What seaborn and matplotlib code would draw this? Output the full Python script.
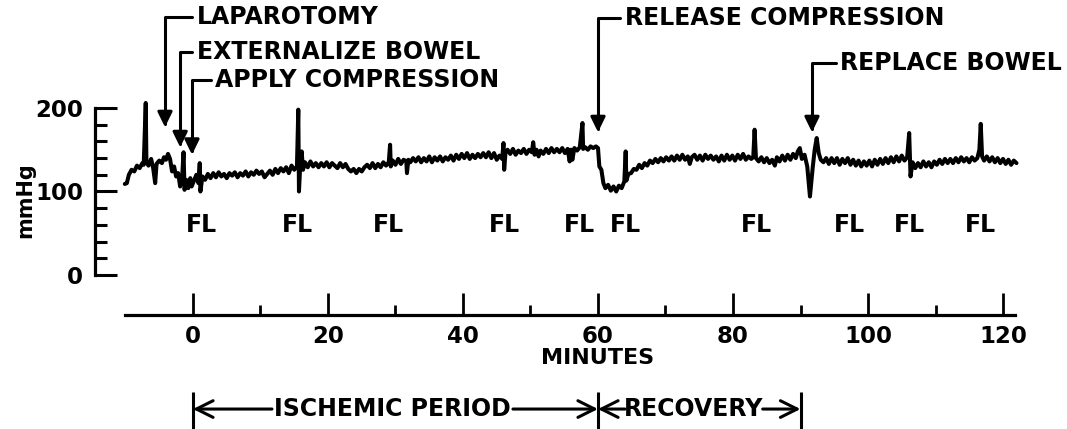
import matplotlib
matplotlib.use("Agg")
import matplotlib.pyplot as plt
import seaborn as sns
import pandas as pd

# ---------------- data ----------------
minutes = [
    -10.1, -9.8, -9.5, -9.1, -8.7, -8.3, -7.9, -7.5, -7.3, -7.0, -6.9, -6.6, -6.2, -5.9, -5.6, -5.4,
    -5.0, -4.6, -4.3, -4.0, -3.7, -3.4, -3.1, -2.8, -2.5, -2.2, -1.9, -1.6, -1.4, -1.25, -1.0, -0.7,
    -0.4, -0.2, 0.2, 0.5, 0.8, 1.0, 1.1, 1.4, 1.8, 2.2, 2.6, 3.0, 3.4, 3.8, 4.2, 4.6, 5.0, 5.4, 5.8,
    6.2, 6.6, 7.0, 7.4, 7.8, 8.2, 8.6, 9.0, 9.4, 9.8, 10.2, 10.6, 11.0, 11.4, 11.8, 12.2, 12.6, 13.0,
    13.4, 13.8, 14.2, 14.6, 15.0, 15.4, 15.6, 15.7, 15.9, 16.1, 16.3, 16.6, 17.0, 17.4, 17.8, 18.2,
    18.6, 19.0, 19.4, 19.8, 20.2, 20.6, 21.0, 21.4, 21.8, 22.2, 22.6, 23.0, 23.4, 23.8, 24.2, 24.6,
    25.0, 25.4, 25.8, 26.2, 26.6, 27.0, 27.4, 27.8, 28.2, 28.6, 29.0, 29.2, 29.3, 29.6, 30.0, 30.4,
    30.8, 31.2, 31.6, 31.7, 31.9, 32.2, 32.6, 33.0, 33.4, 33.8, 34.2, 34.6, 35.0, 35.4, 35.8, 36.2,
    36.6, 37.0, 37.4, 37.8, 38.2, 38.6, 39.0, 39.4, 39.8, 40.2, 40.6, 41.0, 41.4, 41.8, 42.2, 42.6,
    43.0, 43.4, 43.8, 44.2, 44.6, 45.0, 45.4, 45.8, 46.0, 46.1, 46.3, 46.6, 47.0, 47.4, 47.8, 48.2,
    48.6, 49.0, 49.4, 49.8, 50.2, 50.4, 50.6, 50.9, 51.2, 51.5, 51.9, 52.3, 52.7, 53.1, 53.5, 53.9,
    54.3, 54.7, 55.1, 55.5, 55.8, 56.0, 56.2, 56.5, 56.9, 57.3, 57.7, 57.8, 58.1, 58.5, 58.9, 59.3,
    59.7, 60.0, 60.2, 60.5, 60.8, 61.1, 61.5, 61.9, 62.3, 62.7, 63.1, 63.5, 63.9, 64.1, 64.2, 64.5,
    64.9, 65.3, 65.7, 66.1, 66.5, 66.9, 67.3, 67.7, 68.1, 68.5, 68.9, 69.3, 69.7, 70.1, 70.5, 70.9,
    71.3, 71.7, 72.1, 72.5, 72.9, 73.3, 73.6, 73.9, 74.3, 74.7, 75.1, 75.5, 75.9, 76.3, 76.7, 77.1,
    77.5, 77.9, 78.3, 78.7, 79.1, 79.5, 79.9, 80.3, 80.7, 81.1, 81.5, 81.9, 82.3, 82.7, 83.0, 83.2,
    83.4, 83.8, 84.2, 84.6, 85.0, 85.4, 85.8, 86.2, 86.5, 86.9, 87.3, 87.7, 88.1, 88.5, 88.9, 89.3,
    89.6, 89.9, 90.2, 90.6, 91.0, 91.4, 91.8, 92.1, 92.4, 92.7, 93.0, 93.4, 93.8, 94.2, 94.6, 95.0,
    95.4, 95.8, 96.2, 96.6, 97.0, 97.4, 97.8, 98.2, 98.6, 99.0, 99.4, 99.8, 100.2, 100.6, 101.0,
    101.4, 101.8, 102.2, 102.6, 103.0, 103.4, 103.8, 104.2, 104.6, 105.0, 105.4, 105.8, 106.1, 106.3,
    106.6, 107.0, 107.4, 107.8, 108.2, 108.6, 109.0, 109.4, 109.8, 110.2, 110.6, 111.0, 111.4, 111.8,
    112.2, 112.6, 113.0, 113.4, 113.8, 114.2, 114.6, 115.0, 115.4, 115.8, 116.2, 116.5, 116.7, 116.9,
    117.2, 117.6, 118.0, 118.4, 118.8, 119.2, 119.6, 120.0, 120.4, 120.8, 121.2, 121.6, 122.0,
]
mmhg = [
    109, 110, 120, 126, 124, 131, 128, 134, 132, 206, 136, 131, 139, 128, 110, 133,
    137, 134, 141, 138, 145, 139, 124, 130, 118, 122, 106, 118, 147, 102, 114, 104,
    116, 106, 114, 120, 110, 134, 100, 118, 114, 121, 116, 122, 117, 123, 118, 121, 116, 122, 119,
    123, 117, 122, 119, 124, 118, 123, 120, 125, 121, 124, 117, 121, 125, 120, 127, 122, 128,
    124, 129, 122, 131, 126, 130, 198, 100, 134, 148, 126, 135, 129, 136, 130, 134,
    129, 134, 130, 135, 129, 134, 131, 128, 134, 129, 133, 127, 124, 127, 122, 127,
    124, 129, 132, 128, 134, 128, 133, 129, 135, 131, 135, 156, 130, 137, 132, 139,
    133, 138, 136, 122, 138, 135, 140, 136, 141, 135, 140, 136, 142, 135, 141, 137,
    142, 136, 141, 138, 143, 137, 144, 139, 145, 140, 146, 139, 144, 140, 145, 141,
    146, 141, 147, 140, 146, 138, 143, 139, 158, 126, 147, 150, 145, 151, 144, 149,
    146, 151, 145, 150, 147, 159, 144, 150, 142, 149, 145, 151, 146, 152, 147, 151,
    147, 152, 146, 151, 136, 150, 138, 152, 149, 153, 182, 151, 153, 150, 154, 152,
    154, 152, 130, 126, 110, 104, 108, 101, 106, 100, 107, 104, 112, 148, 113, 121,
    122, 127, 126, 132, 128, 134, 131, 137, 134, 139, 135, 140, 136, 141, 137, 142,
    137, 143, 138, 144, 138, 142, 133, 141, 144, 138, 143, 137, 144, 139, 143, 138,
    142, 136, 143, 137, 144, 138, 143, 137, 144, 139, 145, 138, 142, 139, 141, 174,
    140, 136, 141, 135, 140, 134, 138, 131, 141, 136, 143, 137, 144, 138, 145, 140,
    148, 152, 139, 144, 130, 94, 128, 150, 164, 146, 138, 135, 140, 133, 140, 134,
    140, 132, 139, 134, 140, 132, 138, 131, 137, 130, 136, 131, 137, 130, 138,
    132, 139, 133, 140, 134, 141, 135, 142, 136, 143, 137, 141, 170, 118,
    135, 128, 134, 129, 136, 130, 135, 129, 136, 132, 138, 133, 139, 134,
    139, 134, 140, 135, 141, 136, 140, 135, 141, 137, 140, 150, 181, 142,
    137, 142, 136, 141, 135, 140, 134, 139, 133, 138, 132, 137, 134,
]

fl_minutes = [1.2, 15.4, 28.9, 46.2, 57.3, 64.0, 83.4, 97.3, 106.2, 116.6]
fl_label = "FL"

event_labels = ["LAPAROTOMY", "EXTERNALIZE BOWEL", "APPLY COMPRESSION",
                "RELEASE COMPRESSION", "REPLACE BOWEL"]
event_minutes = [-4.15, -1.9, -0.15, 60.0, 91.7]
event_tip_mmhg = [177, 153, 144, 171, 171]

period_labels = ["ISCHEMIC PERIOD", "RECOVERY"]
period_starts = [0, 60]
period_ends = [60, 90]

x_major = [0, 20, 40, 60, 80, 100, 120]
x_minor = [10, 30, 50, 70, 90, 110]
y_major = [0, 100, 200]
y_minor = [20, 40, 60, 80, 120, 140, 160, 180]

# ---------------- layout constants ----------------
event_text_pos = [(0.6, 309.0), (0.6, 267.4), (3.3, 233.5), (64.0, 307.8), (95.9, 253.9)]
fl_y = 60
period_y = -160.5
period_text_x = [29.6, 74.2]
period_text_edges = [(11.7, 47.4), (64.0, 84.4)]

sns.set_theme(style="ticks")
plt.rcParams["font.family"] = ["DejaVu Sans"]
plt.rcParams["font.weight"] = "bold"
plt.rcParams["text.color"] = "black"
plt.rcParams["axes.labelcolor"] = "black"
plt.rcParams["xtick.color"] = "black"
plt.rcParams["ytick.color"] = "black"

fig = plt.figure(figsize=(10.67, 4.29), dpi=100, facecolor="white")
ax = fig.add_axes([0, 0, 1, 1])
ax.set_facecolor("white")

df = pd.DataFrame({"minutes": minutes, "mmHg": mmhg})
sns.lineplot(data=df, x="minutes", y="mmHg", ax=ax, color="black",
             linewidth=2.9, estimator=None, sort=False)

ax.set_xlim(-28.59, 129.48)
ax.set_ylim(-184.4, 329.3)

for s in ["top", "right"]:
    ax.spines[s].set_visible(False)
ax.spines["left"].set_position(("data", -14.5))
ax.spines["left"].set_bounds(0, 200)
ax.spines["bottom"].set_position(("data", -47.9))
ax.spines["bottom"].set_bounds(-10.1, 121.8)
for s in ["left", "bottom"]:
    ax.spines[s].set_linewidth(2.3)
    ax.spines[s].set_color("black")

ax.set_xticks(x_major)
ax.set_xticks(x_minor, minor=True)
ax.set_yticks(y_major)
ax.set_yticks(y_minor, minor=True)
ax.set_xticklabels([str(v) for v in x_major])
ax.set_yticklabels([str(v) for v in y_major])
ax.tick_params(axis="x", which="major", direction="in", length=15.6, width=2.0,
               pad=7, labelsize=16.5, colors="black")
ax.tick_params(axis="x", which="minor", direction="in", length=7.2, width=2.0, colors="black")
ax.tick_params(axis="y", which="major", direction="in", length=15.8, width=2.2,
               pad=8.6, labelsize=16.5, colors="black")
ax.tick_params(axis="y", which="minor", direction="in", length=8.6, width=2.2, colors="black")

ax.set_xlabel("MINUTES", fontsize=16, fontweight="bold", va="center", ha="center",
              color="black")
ax.xaxis.set_label_coords(60, -99.4, transform=ax.transData)
ax.set_ylabel("mmHg", fontsize=15, fontweight="bold", va="center", ha="center",
              rotation=90, color="black")
ax.yaxis.set_label_coords(-24.9, 89.8, transform=ax.transData)

# FL markers
for t in fl_minutes:
    ax.text(t, fl_y, fl_label, ha="center", va="center", fontsize=17,
            fontweight="bold", color="black")

# event annotations with bracket arrows
for lab, t, v, (tx, ty) in zip(event_labels, event_minutes, event_tip_mmhg, event_text_pos):
    ax.annotate(lab, xy=(t, v), xytext=(tx, ty), ha="left", va="center",
                fontsize=17, fontweight="bold", color="black",
                arrowprops=dict(arrowstyle="-|>,head_length=0.45,head_width=0.22",
                                connectionstyle="angle,angleA=0,angleB=90,rad=0",
                                mutation_scale=20, lw=2.2, color="black",
                                shrinkA=1, shrinkB=0))

# period dimension lines
ax.vlines(sorted(set(period_starts + period_ends)), -140, -195, color="black",
          lw=2.2, clip_on=False)
for lab, a, b, cx, (e0, e1) in zip(period_labels, period_starts, period_ends,
                                   period_text_x, period_text_edges):
    ax.text(cx, period_y, lab, ha="center", va="center", fontsize=17,
            fontweight="bold", color="black")
    ax.annotate("", xy=(a, period_y), xytext=(e0, period_y),
                arrowprops=dict(arrowstyle="->,head_length=0.4,head_width=0.2",
                                mutation_scale=30, lw=2.2, color="black",
                                shrinkA=0, shrinkB=0))
    ax.annotate("", xy=(b, period_y), xytext=(e1, period_y),
                arrowprops=dict(arrowstyle="->,head_length=0.4,head_width=0.2",
                                mutation_scale=30, lw=2.2, color="black",
                                shrinkA=0, shrinkB=0))

fig.savefig("out.png", dpi=100, facecolor="white")
